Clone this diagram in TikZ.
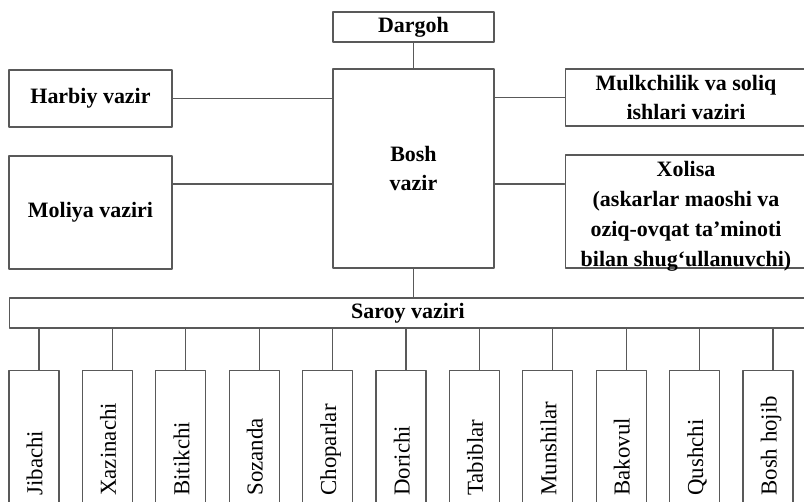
\documentclass[tikz,border=0pt]{standalone}
\usepackage{fontspec}
\setmainfont{Liberation Serif}
\begin{document}
\begin{tikzpicture}[x=0.02cm,y=-0.02cm,line join=round,line cap=round,
	font=\fontsize{12.5}{16}\selectfont,
	box/.style={draw=black!65,line width=0.6pt,inner sep=0pt,align=center,font=\fontsize{12.5}{16.5}\selectfont\bfseries},
	kid/.style={draw=black!65,line width=0.6pt,anchor=north,minimum width=1cm,minimum height=3cm,inner sep=0pt},
	kidtext/.style={rotate=90,anchor=base west,inner sep=0pt,font=\fontsize{13}{16}\selectfont},
	link/.style={draw=black!65,line width=0.6pt}]
	\useasboundingbox (0,0) rectangle (804,501);
	\clip (0,0) rectangle (804,501);
	% top part
	\node[box,minimum width=3.22cm,minimum height=0.6cm] (dargoh) at (413.5,27) {Dargoh};
	\node[box,minimum width=3.22cm,minimum height=3.98cm] (bosh) at (413.5,168.5) {Bosh\\vazir};
	\node[box,minimum width=3.26cm,minimum height=1.14cm] (harbiy) at (90.5,98.5) {Harbiy vazir};
	\node[box,minimum width=3.26cm,minimum height=2.26cm] (moliya) at (90.5,212.5) {Moliya vaziri};
	\node[box,minimum width=4.84cm,minimum height=1.14cm] (mulk) at (686,97.5) {Mulkchilik va soliq\\ishlari vaziri};
	\node[box,minimum width=4.84cm,minimum height=2.26cm] (xolisa) at (686,211.5) {};
	\node[box,draw=none,font=\fontsize{12.5}{17}\selectfont\bfseries] (xolisatext) at ([yshift=-0.1cm]xolisa.center) {Xolisa\\(askarlar maoshi va\\oziq-ovqat ta’minoti\\bilan shug‘ullanuvchi)};
	\node[box,minimum width=15.96cm,minimum height=0.6cm] (saroy) at (408,313) {Saroy vaziri};
	\coordinate (lvl) at (0,184);
	\draw[link] (dargoh.south) -- (bosh.north);
	\draw[link] (harbiy.east) -- (bosh.west |- harbiy.east);
	\draw[link] (moliya.east |- lvl) -- (bosh.west |- lvl);
	\draw[link] (bosh.east |- mulk.west) -- (mulk.west);
	\draw[link] (bosh.east |- lvl) -- (xolisa.west |- lvl);
	\draw[link] (bosh.south) -- (bosh.south |- saroy.north);
	% bottom row
	\foreach \lbl [count=\i] in {Jibachi,Xazinachi,Bitikchi,Sozanda,Choparlar,Dorichi,Tabiblar,Munshilar,Bakovul,Qushchi,Bosh hojib}{
		\node[kid] (k\i) at ({34+73.4*(\i-1)},370) {};
		\node[kidtext] at ([shift={(0.17cm,-2.52cm)}]k\i.north) {\lbl};
		\draw[link] ([xshift=0.1cm]k\i.north) -- ([xshift=0.1cm]k\i.north |- saroy.south);
	}
\end{tikzpicture}
\end{document}
